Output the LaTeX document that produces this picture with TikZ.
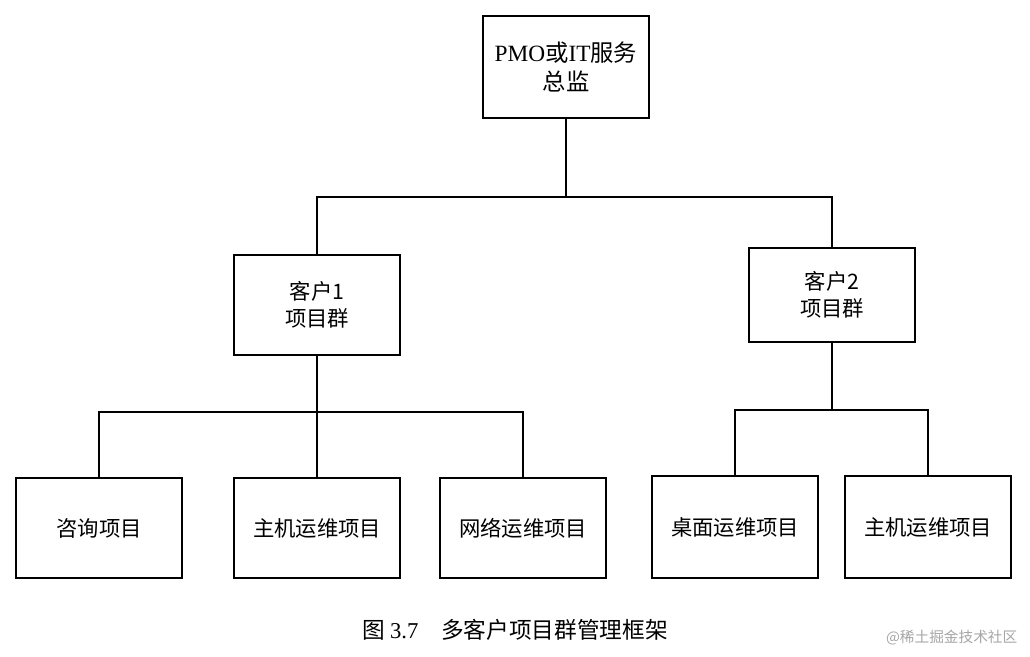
\documentclass[tikz,border=0pt]{standalone}
\usepackage{fontspec}
\setmainfont{Liberation Serif}
\newfontfamily\cjk{Noto Sans CJK SC}
\begin{document}
\begin{tikzpicture}[x=0.75pt,y=-0.75pt,
  bx/.style={draw,line width=1.3pt,minimum width=124pt,minimum height=75pt,align=center,font=\cjk\fontsize{16}{20}\selectfont,inner sep=0pt},
  ln/.style={line width=1pt}]
\useasboundingbox (0,0) rectangle (1030,656);
\node[bx,minimum height=76pt,font=\cjk\fontsize{17.5}{22}\selectfont] (top) at (566,67) {{\rmfamily PMO}或{\rmfamily IT}服务\\总监};
\node[bx] (c1) at (317,305) {客户1\\项目群};
\node[bx,minimum height=71pt] (c2) at (832,295) {客户2\\项目群};
\node[bx] (b1) at (99,528) {咨询项目};
\node[bx] (b2) at (317,528) {主机运维项目};
\node[bx] (b3) at (523,528) {网络运维项目};
\node[bx,minimum height=77pt] (b4) at (735,527) {桌面运维项目};
\node[bx,minimum height=77pt] (b5) at (928,527) {主机运维项目};
\coordinate (j0) at (566,197);
\coordinate (j1) at (317,412);
\coordinate (j2) at (832,410);
\draw[ln] (top.south) -- (j0);
\draw[ln] (c1.north) |- (j0) -| (c2.north);
\draw[ln] (c1.south) -- (j1);
\draw[ln] (b1.north) |- (j1) -| (b3.north);
\draw[ln] (j1) -- (b2.north);
\draw[ln] (c2.south) -- (j2);
\draw[ln] (b4.north) |- (j2) -| (b5.north);
\node[font=\cjk\fontsize{17}{20}\selectfont] (cap) at (515,630) {图 {\rmfamily 3.7}\quad 多客户项目群管理框架};
\node[font=\cjk\fontsize{11}{13}\selectfont,text=gray!70,anchor=east] (wm) at (1022,638) {@稀土掘金技术社区};
\end{tikzpicture}
\end{document}
